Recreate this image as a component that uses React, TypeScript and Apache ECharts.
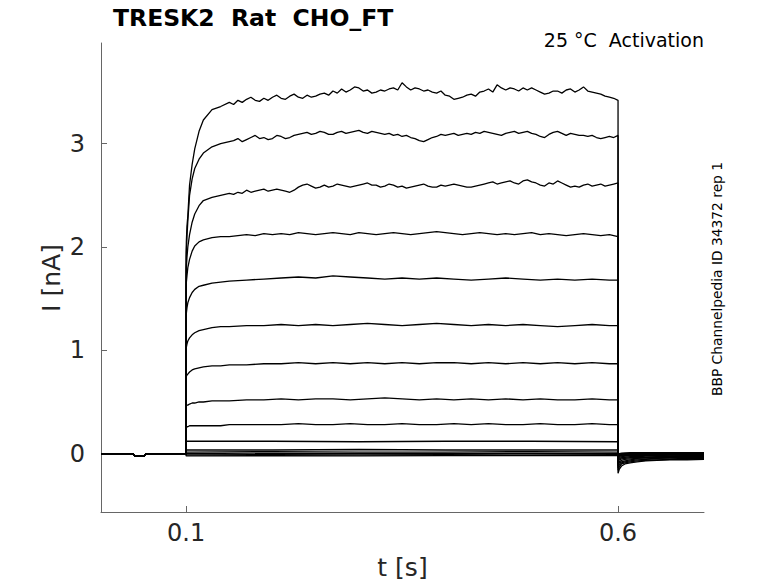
import React, { useEffect, useRef } from "react";
import * as echarts from "echarts";

// Time axis ticks and value axis ticks
const xTicks = [0.1, 0.6];
const yTicks = [0, 1, 2, 3];

// Shared baseline segment (before the voltage step)
const baseTimes = [0.0015, 0.038, 0.041, 0.051, 0.054, 0.1];
const baseValues = [0, 0, -0.025, -0.025, 0, 0];

// Sampling times during the step
const stepTimesDense = [
  0.1, 0.1003, 0.101, 0.102, 0.104, 0.107, 0.11, 0.115, 0.12, 0.13, 0.14, 0.15,
  0.155, 0.16, 0.165, 0.17, 0.175, 0.18, 0.185, 0.19, 0.195, 0.2,
  0.205, 0.21, 0.215, 0.22, 0.225, 0.23, 0.235, 0.24, 0.245, 0.25,
  0.255, 0.26, 0.265, 0.27, 0.275, 0.28, 0.285, 0.29, 0.295, 0.3,
  0.305, 0.31, 0.315, 0.32, 0.325, 0.33, 0.335, 0.34, 0.345, 0.35,
  0.355, 0.36, 0.365, 0.37, 0.375, 0.38, 0.385, 0.39, 0.395, 0.4,
  0.405, 0.41, 0.415, 0.42, 0.425, 0.43, 0.435, 0.44, 0.445, 0.45,
  0.455, 0.46, 0.465, 0.47, 0.475, 0.48, 0.485, 0.49, 0.495, 0.5,
  0.505, 0.51, 0.515, 0.52, 0.525, 0.53, 0.535, 0.54, 0.545, 0.55,
  0.555, 0.56, 0.565, 0.57, 0.575, 0.58, 0.585, 0.59, 0.595, 0.6,
];
const stepTimesFine = [
  0.1, 0.1003, 0.101, 0.102, 0.104, 0.107, 0.11, 0.115, 0.12, 0.13, 0.14, 0.15,
  0.16, 0.17, 0.18, 0.19, 0.2, 0.21, 0.22, 0.23, 0.24, 0.25, 0.26, 0.27, 0.28, 0.29,
  0.3, 0.31, 0.32, 0.33, 0.34, 0.35, 0.36, 0.37, 0.38, 0.39, 0.4, 0.41, 0.42, 0.43,
  0.44, 0.45, 0.46, 0.47, 0.48, 0.49, 0.5, 0.51, 0.52, 0.53, 0.54, 0.55, 0.56, 0.57,
  0.58, 0.59, 0.6,
];
const stepTimesCoarse = [
  0.1, 0.1003, 0.101, 0.102, 0.104, 0.107, 0.11, 0.115, 0.12, 0.13, 0.14, 0.15,
  0.17, 0.19, 0.21, 0.23, 0.25, 0.27, 0.29, 0.31, 0.33, 0.35, 0.37, 0.39, 0.41,
  0.43, 0.45, 0.47, 0.49, 0.51, 0.53, 0.55, 0.57, 0.59, 0.6,
];
const stepTimesFlat = [0.1, 0.2, 0.3, 0.4, 0.5, 0.6];

// Sampling times of the tail after the step
const tailTimes = [0.6, 0.6015, 0.604, 0.608, 0.614, 0.622, 0.632, 0.645, 0.66, 0.68, 0.6995];

// Currents (nA) during the step
const step1 = [
  1.9, 2.05, 2.2, 2.3, 2.6, 2.8, 2.95, 3.12, 3.23, 3.33, 3.36, 3.4,
  3.38, 3.42, 3.4, 3.43, 3.45, 3.42, 3.41, 3.44, 3.42, 3.45,
  3.47, 3.44, 3.43, 3.46, 3.48, 3.45, 3.44, 3.47, 3.45, 3.46,
  3.48, 3.49, 3.47, 3.51, 3.49, 3.53, 3.5, 3.52, 3.55, 3.54,
  3.51, 3.52, 3.49, 3.5, 3.52, 3.51, 3.53, 3.54, 3.52, 3.59,
  3.55, 3.52, 3.54, 3.53, 3.51, 3.52, 3.5, 3.49, 3.51, 3.47,
  3.46, 3.43, 3.44, 3.45, 3.47, 3.48, 3.46, 3.5, 3.51, 3.53,
  3.5, 3.57, 3.54, 3.52, 3.54, 3.53, 3.51, 3.54, 3.52, 3.54,
  3.52, 3.5, 3.48, 3.49, 3.51, 3.51, 3.49, 3.52, 3.53, 3.5,
  3.52, 3.55, 3.51, 3.5, 3.49, 3.48, 3.46, 3.45, 3.44, 3.42,
];
const step2 = [
  1.8, 1.95, 2.1, 2.25, 2.5, 2.66, 2.76, 2.85, 2.91, 2.97, 3.0, 3.02,
  3.03, 3.05, 3.02, 3.04, 3.06, 3.08, 3.05, 3.06, 3.04, 3.05,
  3.08, 3.07, 3.05, 3.06, 3.08, 3.09, 3.1, 3.11, 3.09, 3.1,
  3.12, 3.11, 3.09, 3.09, 3.11, 3.12, 3.1, 3.11, 3.12, 3.13,
  3.11, 3.1, 3.12, 3.11, 3.1, 3.09, 3.1, 3.08, 3.09, 3.07,
  3.08, 3.06, 3.05, 3.03, 3.02, 3.04, 3.06, 3.07, 3.09, 3.08,
  3.09, 3.1, 3.08, 3.09, 3.1, 3.09, 3.11, 3.1, 3.12, 3.11,
  3.1, 3.09, 3.08, 3.1, 3.11, 3.12, 3.1, 3.11, 3.12, 3.1,
  3.09, 3.07, 3.06, 3.09, 3.11, 3.12, 3.1, 3.08, 3.1, 3.09,
  3.08, 3.08, 3.07, 3.08, 3.06, 3.05, 3.06, 3.07, 3.06, 3.08,
];
const step3 = [
  1.7, 1.8, 1.9, 2.0, 2.12, 2.24, 2.32, 2.4, 2.45, 2.48, 2.5, 2.52,
  2.51, 2.53, 2.52, 2.55, 2.53, 2.54, 2.55, 2.56, 2.54, 2.55,
  2.56, 2.55, 2.54, 2.53, 2.55, 2.58, 2.6, 2.61, 2.59, 2.57,
  2.58, 2.6, 2.58, 2.59, 2.61, 2.6, 2.59, 2.58, 2.59, 2.6,
  2.61, 2.62, 2.6, 2.6, 2.58, 2.59, 2.61, 2.6, 2.58, 2.59,
  2.57, 2.58, 2.59, 2.6, 2.61, 2.59, 2.58, 2.58, 2.6, 2.59,
  2.6, 2.61, 2.6, 2.59, 2.58, 2.58, 2.59, 2.6, 2.61, 2.62,
  2.63, 2.61, 2.62, 2.63, 2.64, 2.62, 2.61, 2.64, 2.65, 2.63,
  2.62, 2.6, 2.59, 2.62, 2.61, 2.64, 2.62, 2.6, 2.58, 2.59,
  2.58, 2.6, 2.61, 2.59, 2.6, 2.61, 2.59, 2.6, 2.61, 2.62,
];
const step4 = [
  1.6, 1.66, 1.72, 1.8, 1.88, 1.96, 2.01, 2.05, 2.07, 2.09, 2.1, 2.1,
  2.11, 2.12, 2.11, 2.13, 2.12, 2.13, 2.12, 2.14, 2.13, 2.12, 2.13, 2.14, 2.13, 2.12,
  2.14, 2.13, 2.12, 2.13, 2.14, 2.13, 2.12, 2.13, 2.14, 2.15, 2.14, 2.13, 2.12, 2.13,
  2.14, 2.13, 2.12, 2.13, 2.12, 2.13, 2.14, 2.12, 2.13, 2.12, 2.11, 2.12, 2.13, 2.12,
  2.11, 2.12, 2.1,
];
const step5 = [
  1.3, 1.36, 1.41, 1.46, 1.51, 1.56, 1.59, 1.62, 1.63, 1.65, 1.66, 1.67,
  1.68, 1.69, 1.7, 1.71, 1.7, 1.72, 1.71, 1.7, 1.69, 1.7, 1.69, 1.7, 1.69, 1.68,
  1.69, 1.7, 1.69, 1.68, 1.69, 1.68, 1.69, 1.68, 1.68,
];
const step6 = [
  1.0, 1.03, 1.06, 1.09, 1.12, 1.15, 1.17, 1.19, 1.2, 1.22, 1.23, 1.23,
  1.24, 1.24, 1.25, 1.24, 1.25, 1.24, 1.25, 1.26, 1.25, 1.24, 1.25, 1.26, 1.25, 1.24,
  1.25, 1.24, 1.25, 1.24, 1.23, 1.24, 1.25, 1.24, 1.24,
];
const step7 = [
  0.74, 0.75, 0.76, 0.77, 0.79, 0.81, 0.82, 0.83, 0.84, 0.85, 0.85, 0.86,
  0.86, 0.87, 0.87, 0.88, 0.87, 0.88, 0.87, 0.88, 0.87, 0.88, 0.87, 0.88, 0.88, 0.87,
  0.88, 0.87, 0.88, 0.87, 0.88, 0.87, 0.88, 0.87, 0.87,
];
const step8 = [
  0.46, 0.46, 0.47, 0.47, 0.48, 0.49, 0.49, 0.5, 0.5, 0.51, 0.51, 0.51,
  0.52, 0.52, 0.53, 0.52, 0.53, 0.53, 0.52, 0.53, 0.54, 0.53, 0.52, 0.53, 0.52, 0.53,
  0.52, 0.53, 0.52, 0.53, 0.52, 0.52, 0.53, 0.52, 0.52,
];
const step9 = [
  0.26, 0.26, 0.26, 0.26, 0.27, 0.27, 0.27, 0.27, 0.27, 0.27, 0.27, 0.28,
  0.28, 0.28, 0.28, 0.29, 0.28, 0.28, 0.29, 0.28, 0.28, 0.29, 0.28, 0.28, 0.29, 0.28,
  0.29, 0.28, 0.28, 0.29, 0.28, 0.28, 0.29, 0.28, 0.28,
];
const step10 = [0.12, 0.12, 0.115, 0.12, 0.12, 0.115];
const step11 = [0.035, 0.035, 0.04, 0.035, 0.035, 0.035];
const step12 = [0.015, 0.02, 0.015, 0.015, 0.02, 0.015];
const step13 = [0.0, 0.005, 0.0, 0.0, 0.005, 0.0];
const step14 = [-0.012, -0.01, -0.012, -0.01, -0.012, -0.01];
const step15 = [-0.022, -0.02, -0.022, -0.02, -0.02, -0.02];

// Tail currents (nA) after the step
const tail1 = [-0.19, -0.15, -0.12, -0.1, -0.09, -0.08, -0.07, -0.065, -0.06, -0.06, -0.055];
const tail2 = [-0.16, -0.13, -0.1, -0.09, -0.08, -0.07, -0.065, -0.06, -0.055, -0.055, -0.05];
const tail3 = [-0.14, -0.11, -0.09, -0.08, -0.07, -0.06, -0.055, -0.05, -0.05, -0.045, -0.045];
const tail4 = [-0.12, -0.09, -0.08, -0.07, -0.06, -0.05, -0.05, -0.045, -0.04, -0.04, -0.04];
const tail5 = [-0.1, -0.08, -0.065, -0.055, -0.05, -0.045, -0.04, -0.04, -0.035, -0.035, -0.035];
const tail6 = [-0.08, -0.06, -0.05, -0.045, -0.04, -0.035, -0.035, -0.03, -0.03, -0.03, -0.03];
const tail7 = [-0.06, -0.05, -0.04, -0.035, -0.03, -0.03, -0.025, -0.025, -0.025, -0.02, -0.02];
const tail8 = [-0.05, -0.04, -0.03, -0.025, -0.02, -0.02, -0.02, -0.02, -0.015, -0.015, -0.015];
const tail9 = [-0.04, -0.03, -0.02, -0.015, -0.015, -0.01, -0.01, -0.01, -0.01, -0.01, -0.01];
const tail10 = [-0.03, -0.02, -0.01, -0.01, -0.005, 0, 0, 0, 0, 0, 0];
const tail11 = [-0.02, -0.01, 0, 0.005, 0.01, 0.01, 0.01, 0.01, 0.01, 0.01, 0.01];
const tail12 = [-0.01, 0, 0.005, 0.005, 0.005, 0.005, 0.005, 0.005, 0.005, 0.005, 0.005];
const tail13 = [-0.005, 0, 0, 0, 0, 0, 0, 0, 0, 0, 0];
const tail14 = [-0.015, -0.01, -0.01, -0.01, -0.01, -0.01, -0.01, -0.01, -0.01, -0.01, -0.01];
const tail15 = [-0.025, -0.02, -0.02, -0.018, -0.016, -0.015, -0.015, -0.015, -0.015, -0.015, -0.015];

const traces = [
  { times: stepTimesDense, step: step1, tail: tail1 },
  { times: stepTimesDense, step: step2, tail: tail2 },
  { times: stepTimesDense, step: step3, tail: tail3 },
  { times: stepTimesFine, step: step4, tail: tail4 },
  { times: stepTimesCoarse, step: step5, tail: tail5 },
  { times: stepTimesCoarse, step: step6, tail: tail6 },
  { times: stepTimesCoarse, step: step7, tail: tail7 },
  { times: stepTimesCoarse, step: step8, tail: tail8 },
  { times: stepTimesCoarse, step: step9, tail: tail9 },
  { times: stepTimesFlat, step: step10, tail: tail10 },
  { times: stepTimesFlat, step: step11, tail: tail11 },
  { times: stepTimesFlat, step: step12, tail: tail12 },
  { times: stepTimesFlat, step: step13, tail: tail13 },
  { times: stepTimesFlat, step: step14, tail: tail14 },
  { times: stepTimesFlat, step: step15, tail: tail15 },
];

const FONT = "DejaVu Sans";

export default function App() {
  const ref = useRef<HTMLDivElement>(null);
  useEffect(() => {
    if (!ref.current) return;
    const chart = echarts.init(ref.current, undefined, { renderer: "svg" });
    const series = traces.map((tr) => {
      const data: number[][] = [];
      baseTimes.forEach((t, i) => data.push([t, baseValues[i]]));
      tr.times.forEach((t, i) => data.push([t, tr.step[i]]));
      tailTimes.forEach((t, i) => data.push([t, tr.tail[i]]));
      return {
        type: "line",
        data,
        showSymbol: false,
        symbol: "none",
        silent: true,
        lineStyle: { color: "#000", width: 1.3 },
      };
    });
    chart.setOption({
      animation: false,
      backgroundColor: "#fff",
      grid: { left: 101, right: 74, top: 43, bottom: 71, containLabel: false },
      xAxis: {
        type: "value",
        min: 0.0015,
        max: 0.6995,
        axisLine: { show: true, onZero: false, lineStyle: { color: "#666", width: 1 } },
        axisTick: { show: true, inside: true, length: 6, customValues: xTicks, lineStyle: { color: "#666" } },
        axisLabel: {
          customValues: xTicks,
          fontSize: 24,
          fontFamily: FONT,
          color: "#262626",
          margin: 9,
          formatter: (v: number) => String(v),
        },
        splitLine: { show: false },
      },
      yAxis: {
        type: "value",
        min: -0.565,
        max: 3.975,
        axisLine: { show: true, onZero: false, lineStyle: { color: "#666", width: 1 } },
        axisTick: { show: true, inside: true, length: 6, customValues: yTicks, lineStyle: { color: "#666" } },
        axisLabel: {
          customValues: yTicks,
          fontSize: 24,
          fontFamily: FONT,
          color: "#262626",
          margin: 16,
          formatter: (v: number) => String(v),
        },
        splitLine: { show: false },
      },
      graphic: [
        {
          type: "text",
          x: 113,
          y: 18,
          style: {
            text: "TRESK2  Rat  CHO_FT",
            font: `bold 23.5px '${FONT}'`,
            fill: "#000",
            align: "left",
            verticalAlign: "middle",
          },
        },
        {
          type: "text",
          x: 704,
          y: 40,
          style: {
            text: "25 °C  Activation",
            font: `19px '${FONT}'`,
            fill: "#000",
            align: "right",
            verticalAlign: "middle",
          },
        },
        {
          type: "text",
          x: 717,
          y: 279,
          rotation: Math.PI / 2,
          style: {
            text: "BBP Channelpedia ID 34372 rep 1",
            font: `13.8px '${FONT}'`,
            fill: "#000",
            align: "center",
            verticalAlign: "middle",
          },
        },
        {
          type: "text",
          x: 402.5,
          y: 567,
          style: {
            text: "t [s]",
            font: `25px '${FONT}'`,
            fill: "#262626",
            align: "center",
            verticalAlign: "middle",
          },
        },
        {
          type: "text",
          x: 51,
          y: 278,
          rotation: Math.PI / 2,
          style: {
            text: "I [nA]",
            font: `25px '${FONT}'`,
            fill: "#262626",
            align: "center",
            verticalAlign: "middle",
          },
        },
      ],
      series,
    });
    return () => chart.dispose();
  }, []);
  return (
    <div
      ref={ref}
      style={{ position: "absolute", left: 0, top: 0, width: 778, height: 583 }}
    />
  );
}
